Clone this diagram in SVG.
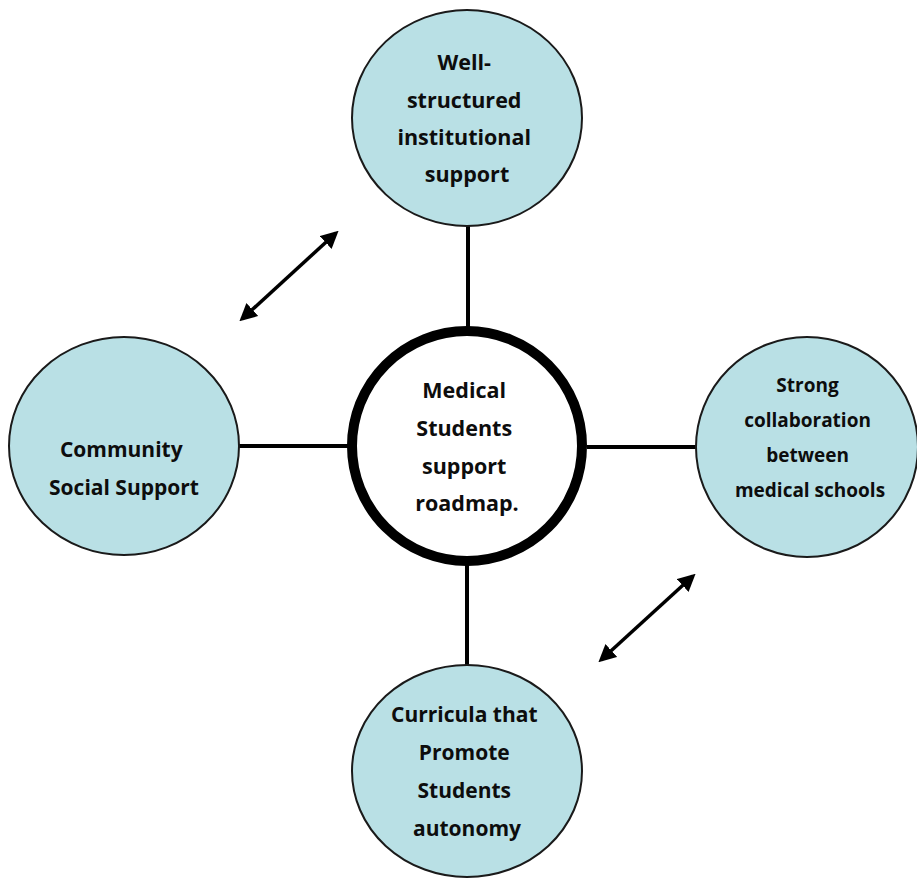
<svg xmlns="http://www.w3.org/2000/svg" width="917" height="880" viewBox="0 0 917 880">
  <style>
    .node { fill: #b9e0e5; stroke: #1a1a1a; stroke-width: 2; }
    .hub { fill: #ffffff; stroke: #000000; stroke-width: 10; }
    .label { font-family: "Open Sans", "Liberation Sans", sans-serif; font-weight: bold; fill: #0d0d0d; text-anchor: middle; }
    .link { stroke: #000000; stroke-width: 4; fill: none; }
    .dbl { stroke: #000000; stroke-width: 3.5; fill: none; marker-start: url(#head); marker-end: url(#head); }
  </style>
  <defs>
    <marker id="head" viewBox="0 0 10 10" refX="8" refY="5" markerWidth="5" markerHeight="5" orient="auto-start-reverse">
      <path d="M0,0 L10,5 L0,10 z" fill="#000000"/>
    </marker>
  </defs>

  <rect width="917" height="880" fill="#ffffff"/>

  <!-- connectors -->
  <g id="connectors">
    <line class="link" x1="468" y1="224" x2="468" y2="334"/>
    <line class="link" x1="238" y1="446" x2="348" y2="446"/>
    <line class="link" x1="587" y1="447" x2="697" y2="447"/>
    <line class="link" x1="467" y1="558" x2="467" y2="668"/>
    <line class="dbl" x1="242" y1="319" x2="336" y2="233"/>
    <line class="dbl" x1="601" y1="660" x2="693" y2="576"/>
  </g>

  <g id="hub">
    <circle class="hub" cx="467" cy="446" r="115"/>
    <text class="label" font-size="21.5">
      <tspan x="467" y="398">Medical</tspan>
      <tspan x="467" y="436">Students</tspan>
      <tspan x="467" y="474">support</tspan>
      <tspan x="467" y="511">roadmap.</tspan>
    </text>
  </g>

  <g id="node-institutional">
    <ellipse class="node" cx="467" cy="118" rx="115" ry="108"/>
    <text class="label" font-size="21.5">
      <tspan x="467" y="70">Well-</tspan>
      <tspan x="467" y="108">structured</tspan>
      <tspan x="467" y="145">institutional</tspan>
      <tspan x="467" y="182">support</tspan>
    </text>
  </g>

  <g id="node-community">
    <ellipse class="node" cx="124" cy="446" rx="115" ry="109"/>
    <text class="label" font-size="21">
      <tspan x="124" y="457">Community</tspan>
      <tspan x="124" y="495">Social Support</tspan>
    </text>
  </g>

  <g id="node-collaboration">
    <ellipse class="node" cx="807" cy="447" rx="111" ry="110"/>
    <text class="label" font-size="19">
      <tspan x="810" y="392">Strong</tspan>
      <tspan x="810" y="427">collaboration</tspan>
      <tspan x="810" y="462">between</tspan>
      <tspan x="810" y="497">medical schools</tspan>
    </text>
  </g>

  <g id="node-curricula">
    <ellipse class="node" cx="467" cy="771" rx="115" ry="106"/>
    <text class="label" font-size="21">
      <tspan x="467" y="722">Curricula that</tspan>
      <tspan x="467" y="760">Promote</tspan>
      <tspan x="467" y="798">Students</tspan>
      <tspan x="467" y="836">autonomy</tspan>
    </text>
  </g>
</svg>
